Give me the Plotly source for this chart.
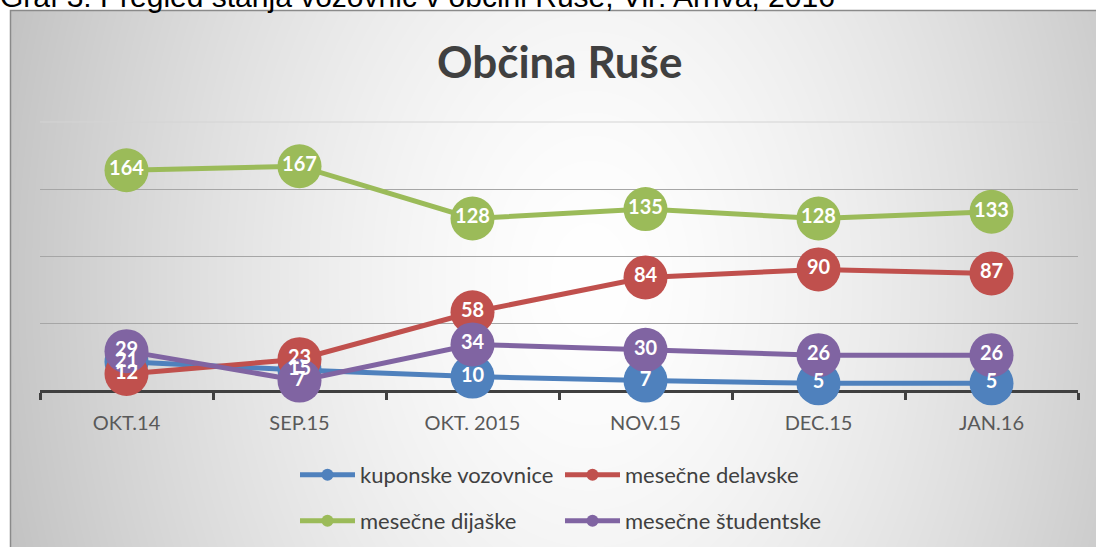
import base64, struct, zlib
import numpy as np
import plotly.graph_objects as go

# ---------------- data ----------------
categories = ["OKT.14", "SEP.15", "OKT. 2015", "NOV.15", "DEC.15", "JAN.16"]
kuponske = [21, 15, 10, 7, 5, 5]
delavske = [12, 23, 58, 84, 90, 87]
dijaske = [164, 167, 128, 135, 128, 133]
studentske = [29, 7, 34, 30, 26, 26]

series_names = ["kuponske vozovnice", "mesečne delavske", "mesečne dijaške", "mesečne študentske"]
series_values = [kuponske, delavske, dijaske, studentske]
series_colors = ["#4F81BD", "#C0504D", "#9BBB59", "#8064A2"]
series_legend = ["legend", "legend", "legend2", "legend2"]

title_text = "Občina Ruše"
caption_text = "Graf 3: Pregled stanja vozovnic v občini Ruše, Vir: Arriva, 2016"

# ---------------- layout geometry (px) ----------------
W, H = 1096, 547
L, R, T, B = 40, 1078, 122, 390
pw, ph = R - L, B - T


def px_x(px):
    return (px - L) / pw


def px_y(py):
    return 1 - (py - T) / ph


# ---------------- background gradient image ----------------
def make_png(gray):
    h, w = gray.shape
    raw = b"".join(b"\x00" + gray[i].tobytes() for i in range(h))

    def chunk(tag, data):
        c = struct.pack(">I", len(data)) + tag + data
        return c + struct.pack(">I", zlib.crc32(tag + data) & 0xFFFFFFFF)

    png = b"\x89PNG\r\n\x1a\n"
    png += chunk(b"IHDR", struct.pack(">IIBBBBB", w, h, 8, 0, 0, 0, 0))
    png += chunk(b"IDAT", zlib.compress(raw, 9))
    png += chunk(b"IEND", b"")
    return "data:image/png;base64," + base64.b64encode(png).decode()


bx0, by0, bx1, by1 = 10, 10, 1100, 560
yy, xx = np.mgrid[by0:by1, bx0:bx1].astype(float)
r = np.sqrt(((xx - 590) / 620) ** 2 + ((yy - 280) / 900) ** 2)
val = 255 - 62 * np.clip(r, 0, 1) ** 1.5
bg_src = make_png(val.astype(np.uint8))

fig = go.Figure()

for name, vals, col, lg in zip(series_names, series_values, series_colors, series_legend):
    fig.add_trace(go.Scatter(
        x=categories, y=vals, name=name, mode="lines+markers",
        line=dict(color=col, width=5),
        marker=dict(color=col, size=44),
        cliponaxis=False, legend=lg, hoverinfo="skip",
    ))

for vals in series_values:
    fig.add_trace(go.Scatter(
        x=categories, y=vals, mode="text", text=[str(v) for v in vals],
        textposition="middle center",
        textfont=dict(family="Lato", size=20, color="white", weight="bold"),
        showlegend=False, cliponaxis=False, hoverinfo="skip",
    ))

legend_common = dict(
    orientation="h", xanchor="left", yanchor="middle",
    bgcolor="rgba(0,0,0,0)", font=dict(family="Lato", size=22, color="#404040"),
    itemsizing="constant", itemwidth=55, entrywidth=195, entrywidthmode="pixels",
    traceorder="normal",
)

fig.update_layout(
    width=W, height=H, autosize=False,
    margin=dict(l=L, r=W - R, t=T, b=H - B, pad=0, autoexpand=False),
    paper_bgcolor="white", plot_bgcolor="rgba(0,0,0,0)",
    font=dict(family="Lato", color="#595959"),
    images=[dict(
        source=bg_src, xref="paper", yref="paper",
        x=px_x(bx0), y=px_y(by0), sizex=(bx1 - bx0) / pw, sizey=(by1 - by0) / ph,
        xanchor="left", yanchor="top", sizing="stretch", layer="below",
    )],
    shapes=[
        dict(type="rect", xref="paper", yref="paper",
             x0=px_x(10.5), x1=px_x(1110), y0=px_y(10.5), y1=px_y(570),
             line=dict(color="#8a8a8a", width=1.5), fillcolor="rgba(0,0,0,0)", layer="below"),
        dict(type="line", xref="paper", yref="paper", x0=0, x1=1, y0=1, y1=1,
             line=dict(color="#d4d4d4", width=1), layer="below"),
    ],
    annotations=[
        dict(text=title_text, xref="paper", yref="paper", x=0.5, y=px_y(61),
             xanchor="center", yanchor="middle", showarrow=False,
             font=dict(family="Lato", size=44, color="#404040", weight="bold")),
        dict(text=caption_text, xref="paper", yref="paper", x=px_x(-2), y=px_y(-3),
             xanchor="left", yanchor="middle", showarrow=False,
             font=dict(family="Liberation Sans", size=30, color="black")),
    ],
    xaxis=dict(
        type="category", range=[-0.5, len(categories) - 0.5],
        showline=True, linecolor="#404040", linewidth=3,
        ticks="outside", tickson="boundaries", ticklen=7, tickwidth=3, tickcolor="#404040",
        tickfont=dict(family="Lato", size=20, color="#595959"), ticklabelstandoff=13,
        showgrid=False, zeroline=False, layer="below traces",
    ),
    yaxis=dict(
        range=[0, 200], tickmode="array", tickvals=[50, 100, 150], showticklabels=False,
        showgrid=True, gridcolor="#a6a6a6", gridwidth=1, zeroline=False, showline=False,
    ),
    legend=dict(x=px_x(295), y=px_y(475), **legend_common),
    legend2=dict(x=px_x(295), y=px_y(521), **legend_common),
)

fig.write_html("out.html")
